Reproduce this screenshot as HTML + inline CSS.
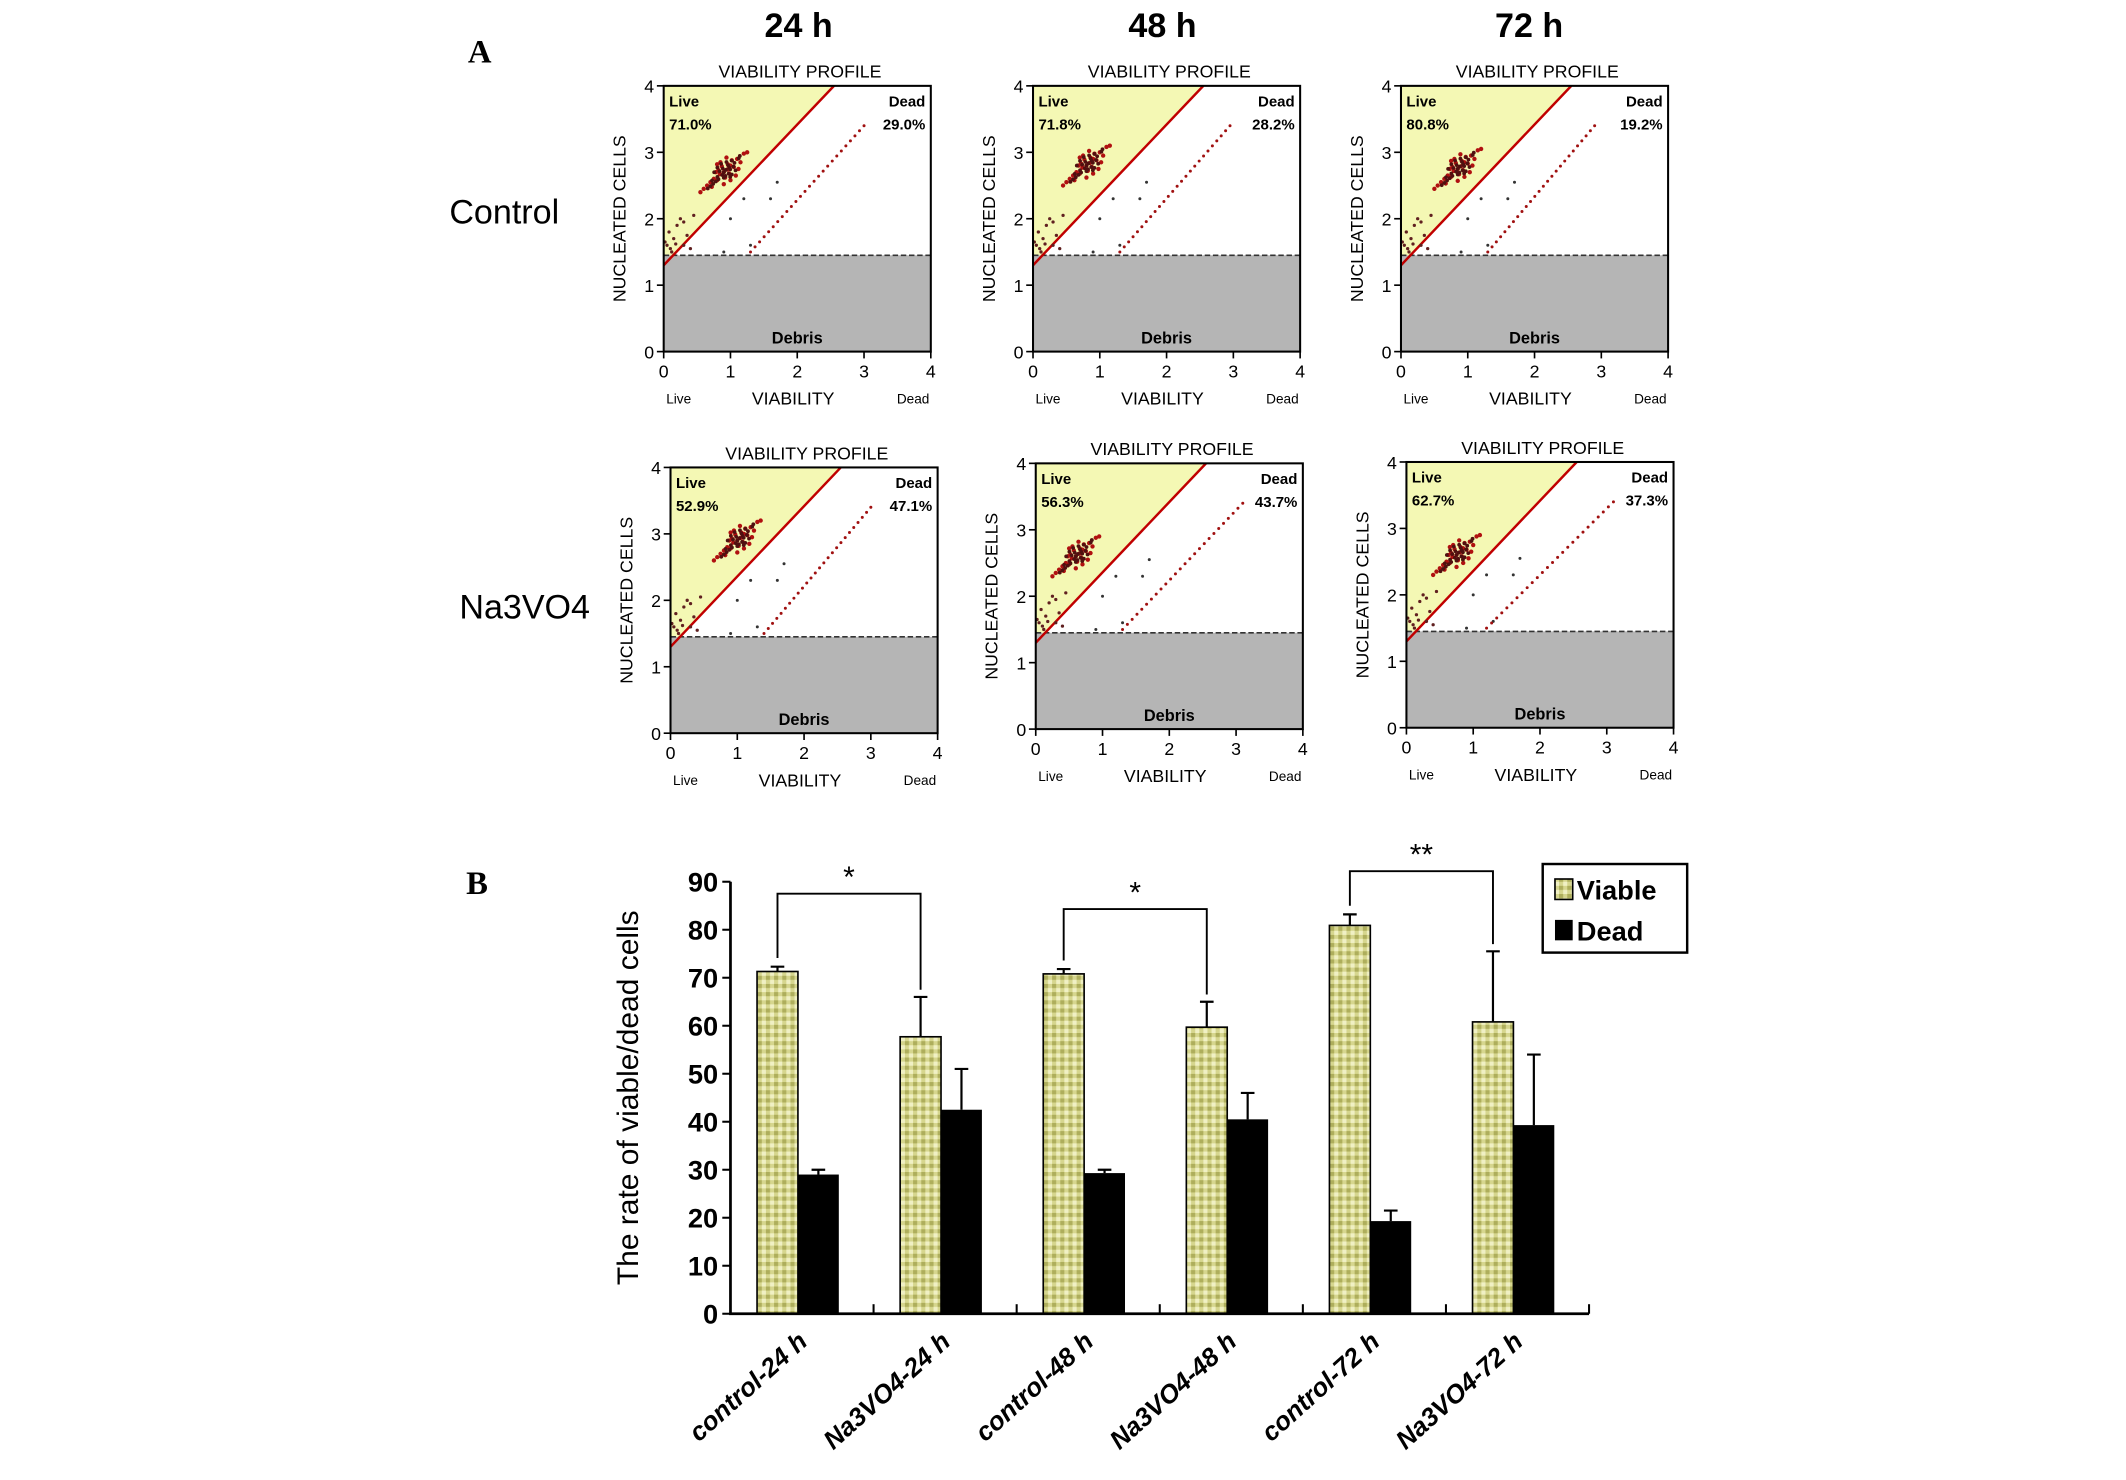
<!DOCTYPE html>
<html><head><meta charset="utf-8">
<style>
html,body{margin:0;padding:0;background:#fff;}
svg{display:block;font-family:"Liberation Sans",Arial,sans-serif;}
</style></head>
<body>
<svg id="fig" width="2126" height="1480" viewBox="0 0 1560 1086" preserveAspectRatio="none" xmlns="http://www.w3.org/2000/svg">
<defs>
<pattern id="chk" width="6" height="6" patternUnits="userSpaceOnUse">
<rect width="6" height="6" fill="#d6d68e"/>
<rect width="3" height="3" fill="#aeae5c"/>
<rect x="3" y="3" width="3" height="3" fill="#f0f0c4"/>
</pattern>
</defs>
<text x="352" y="46" font-family="Liberation Serif,serif" font-weight="bold" font-size="24" text-anchor="middle">A</text>
<text x="350" y="656" font-family="Liberation Serif,serif" font-weight="bold" font-size="24" text-anchor="middle">B</text>
<text x="586" y="27" font-weight="bold" font-size="25" text-anchor="middle">24 h</text>
<text x="853" y="27" font-weight="bold" font-size="25" text-anchor="middle">48 h</text>
<text x="1122" y="27" font-weight="bold" font-size="25" text-anchor="middle">72 h</text>
<text x="370" y="164" font-size="25" text-anchor="middle">Control</text>
<text x="385" y="454" font-size="25" text-anchor="middle">Na3VO4</text>
<g id="scatters" transform="translate(-1,-1)"></g>
<g id="bars" transform="translate(-2,-4)"></g>
</svg>
<script>
// ---- Scatter panel data ----
const panelBoxes = [[488,64],[759,64],[1029,64],[493,344],[761,341],[1033,340]];
const livePct = ["71.0%","71.8%","80.8%","52.9%","56.3%","62.7%"];
const deadPct = ["29.0%","28.2%","19.2%","47.1%","43.7%","37.3%"];
const clusterX = [0.9,0.8,0.85,1.0,0.6,0.75];
const clusterY = [2.7,2.8,2.75,2.9,2.6,2.6];
const deadStart = [1.3,1.3,1.3,1.4,1.3,1.2];
const deadEnd = [3.0,2.95,2.9,3.0,3.1,3.1];
const clusterOffsets = [[0,0],[0.05,0.04],[-0.06,-0.03],[0.1,0.1],[-0.1,-0.12],[0.15,0.08],[-0.15,-0.1],[0.02,-0.08],[-0.03,0.09],[0.2,0.2],[-0.2,-0.15],[0.08,-0.02],[-0.08,0.03],[0.25,0.15],[-0.25,-0.2],[0.12,0.18],[-0.12,0.0],[0.3,0.28],[-0.3,-0.25],[0.18,-0.05],[-0.05,0.15],[0.06,0.12],[-0.18,-0.22],[0.22,0.05],[0.0,-0.18],[-0.35,-0.3],[0.35,0.3],[0.1,-0.12],[-0.1,0.12],[0.04,0.22]];
const lowPts = [[0.05,1.6],[0.1,1.55],[0.15,1.7],[0.2,1.9],[0.08,1.8],[0.3,1.6],[0.25,2.0],[0.12,1.5],[0.35,1.75],[0.4,1.55],[0.02,1.65],[0.18,1.62],[0.45,2.05],[0.3,1.95]];
const deadFrac = [0,0.04,0.08,0.12,0.16,0.2,0.24,0.28,0.32,0.36,0.4,0.44,0.48,0.52,0.56,0.6,0.64,0.68,0.72,0.76,0.8,0.84,0.88,0.92,0.96,1];
const midPts = [[1.0,2.0],[1.2,2.3],[1.7,2.55],[1.6,2.3],[0.9,1.5],[1.3,1.6]];

const NS="http://www.w3.org/2000/svg";
function mk(tag,attrs,parent){const e=document.createElementNS(NS,tag);for(const k in attrs)e.setAttribute(k,attrs[k]);parent.appendChild(e);return e;}
const sg=document.getElementById('scatters');
const W=196,H=195;
panelBoxes.forEach((b,i)=>{
  const g=mk('g',{},sg);
  
  
  const px=v=>b[0]+v/4*W, py=v=>b[1]+H-v/4*H;
  const deb=mk('rect',{x:b[0],y:py(1.45),width:W,height:py(0)-py(1.45),fill:'#b5b5b5'},g);
  
  const lv=mk('polygon',{points:`${px(0)},${py(4)} ${px(2.55)},${py(4)} ${px(0.15)},${py(1.45)} ${px(0)},${py(1.45)}`,fill:'#f4f8b4'},g);
  
  const dl=mk('line',{x1:b[0],x2:b[0]+W,y1:py(1.45),y2:py(1.45),stroke:'#333','stroke-width':1.2,'stroke-dasharray':'4,2'},g);
  
  const rl=mk('line',{x1:px(0),y1:py(1.3),x2:px(2.55),y2:py(4),stroke:'#c00000','stroke-width':1.8},g);
  
  clusterOffsets.forEach(o=>{const c=mk('circle',{cx:px(clusterX[i]+o[0]),cy:py(clusterY[i]+o[1]),r:1.6,fill:'#b01010'},g);});
  clusterOffsets.forEach(o=>{const c=mk('circle',{cx:px(clusterX[i]+o[1]*0.8),cy:py(clusterY[i]+o[0]*0.7),r:1.4,fill:'#501010'},g);});
  lowPts.forEach(p=>{const c=mk('circle',{cx:px(p[0]),cy:py(p[1]),r:1.2,fill:'#602020'},g);});
  midPts.forEach(p=>{const c=mk('circle',{cx:px(p[0]),cy:py(p[1]),r:1.1,fill:'#333'},g);});
  deadFrac.forEach(f=>{const xv=deadStart[i]+(deadEnd[i]-deadStart[i])*f;const yv=1.5+(3.4-1.5)*f;const c=mk('circle',{cx:px(xv),cy:py(yv),r:1.1,fill:'#a01010'},g);});
  const fr=mk('rect',{x:b[0],y:b[1],width:W,height:H,fill:'none',stroke:'#000','stroke-width':1.5},g);
  
  for(let t=0;t<=4;t++){
    mk('line',{x1:px(t),x2:px(t),y1:py(0),y2:py(0)+5,stroke:'#000','stroke-width':1.2},g);
    mk('line',{x1:b[0]-5,x2:b[0],y1:py(t),y2:py(t),stroke:'#000','stroke-width':1.2},g);
    const xt=mk('text',{x:px(t),y:py(0)+19,'font-size':13,'text-anchor':'middle'},g);xt.textContent=t;
    
    const yt=mk('text',{x:b[0]-7,y:py(t)+5,'font-size':13,'text-anchor':'end'},g);yt.textContent=t;
    
  }
  const texts=[
    ['VIABILITY PROFILE',b[0]+W/2+2,b[1]-6,13,'middle','','panel-title'],
    ['Live',b[0]+4,b[1]+15,11,'start','bold','live-label'],
    [livePct[i],b[0]+4,b[1]+32,11,'start','bold','live-percent'],
    ['Dead',b[0]+W-4,b[1]+15,11,'end','bold','dead-label'],
    [deadPct[i],b[0]+W-4,b[1]+32,11,'end','bold','dead-percent'],
    ['Debris',b[0]+W/2,b[1]+H-6,12,'middle','bold','debris-label'],
    ['Live',b[0]+11,b[1]+H+38,10,'middle','','x-live-label'],
    ['VIABILITY',b[0]+W/2-3,b[1]+H+39,13,'middle','','x-axis-title'],
    ['Dead',b[0]+W-13,b[1]+H+38,10,'middle','','x-dead-label']];
  texts.forEach(t=>{const e=mk('text',{x:t[1],y:t[2],'font-size':t[3],'text-anchor':t[4],'font-weight':t[5]||'normal'},g);e.textContent=t[0];
    });
  const yl=mk('text',{x:0,y:0,'font-size':13,'text-anchor':'middle',transform:`translate(${b[0]-28},${b[1]+H/2}) rotate(-90)`},g);
  yl.textContent='NUCLEATED CELLS';
});

// ---- Bar chart data ----
const categories = ["control-24 h","Na3VO4-24 h","control-48 h","Na3VO4-48 h","control-72 h","Na3VO4-72 h"];
const viable = [71.3,57.7,70.8,59.7,80.9,60.8];
const viableErr = [1.0,8.3,1.0,5.3,2.3,14.7];
const dead = [29.0,42.5,29.3,40.5,19.3,39.3];
const deadErr = [1.0,8.5,0.7,5.5,2.2,14.7];
const yTicks = [0,10,20,30,40,50,60,70,80,90];
const sigLabels = ["*","*","**"];
const sigHeights = [87.5,84.3,92.2];

const bg=document.getElementById('bars');
const X0=538,X1=1168,Y0=968,Y90=651;
const yS=v=>Y0-(v/90)*(Y0-Y90);
const groupW=(X1-X0)/categories.length;
const bw=30;
const gx=i=>X0+groupW*(i+0.5);
categories.forEach((c,i)=>{
  const cx=gx(i)-3;
  const vb=mk('rect',{x:cx-bw,y:yS(viable[i]),width:bw,height:Y0-yS(viable[i]),fill:'url(#chk)',stroke:'#000','stroke-width':1.2},bg);
  
  const db=mk('rect',{x:cx,y:yS(dead[i]),width:bw,height:Y0-yS(dead[i]),fill:'#000'},bg);
  
  const e1=mk('path',{d:`M${cx-bw/2},${yS(viable[i])} V${yS(viable[i]+viableErr[i])} M${cx-bw/2-5},${yS(viable[i]+viableErr[i])} H${cx-bw/2+5}`,stroke:'#000','stroke-width':1.6,fill:'none'},bg);
  
  const e2=mk('path',{d:`M${cx+bw/2},${yS(dead[i])} V${yS(dead[i]+deadErr[i])} M${cx+bw/2-5},${yS(dead[i]+deadErr[i])} H${cx+bw/2+5}`,stroke:'#000','stroke-width':1.6,fill:'none'},bg);
  
  mk('line',{x1:X0+groupW*(i+1),x2:X0+groupW*(i+1),y1:Y0,y2:Y0-7,stroke:'#000','stroke-width':1.5},bg);
  const lab=mk('text',{x:0,y:0,'font-size':19,'font-weight':'bold','font-style':'italic','text-anchor':'end',transform:`translate(${cx+8},${Y0+22}) rotate(-42)`},bg);
  lab.textContent=c;
});
const ax=mk('path',{d:`M${X0},${Y90} V${Y0} H${X1}`,stroke:'#000','stroke-width':2,fill:'none'},bg);

yTicks.forEach(t=>{
  mk('line',{x1:X0-6,x2:X0,y1:yS(t),y2:yS(t),stroke:'#000','stroke-width':1.5},bg);
  const tt=mk('text',{x:X0-9,y:yS(t)+7,'font-size':20,'font-weight':'bold','text-anchor':'end'},bg);
  tt.textContent=t;
});
const yt=mk('text',{x:0,y:0,'font-size':22,'text-anchor':'middle',transform:`translate(470,${(Y0+Y90)/2}) rotate(-90)`},bg);
yt.textContent='The rate of viable/dead cells';
sigLabels.forEach((s,k)=>{
  const a=2*k,b2=2*k+1;
  const xa=gx(a)-3-bw/2,xb=gx(b2)-3-bw/2;
  const yTop=yS(sigHeights[k]);
  const p=mk('path',{d:`M${xa},${yS(viable[a]+viableErr[a]+1.8)} V${yTop} H${xb} V${yS(viable[b2]+viableErr[b2]+1.5)}`,stroke:'#000','stroke-width':1.4,fill:'none'},bg);
  
  const st=mk('text',{x:(xa+xb)/2,y:yTop-5,'font-size':22,'text-anchor':'middle'},bg);
  st.textContent=s;
});
const lg=mk('g',{},bg);
mk('rect',{x:1134,y:638,width:106,height:65,fill:'#fff',stroke:'#000','stroke-width':1.8},lg);
const s1=mk('rect',{x:1143,y:649,width:13,height:15,fill:'url(#chk)',stroke:'#000','stroke-width':1.2},lg);

const s2=mk('rect',{x:1143,y:679,width:13,height:15,fill:'#000'},lg);

const l1=mk('text',{x:1159,y:664,'font-size':20,'font-weight':'bold'},lg);l1.textContent='Viable';

const l2=mk('text',{x:1159,y:694,'font-size':20,'font-weight':'bold'},lg);l2.textContent='Dead';

</script>
</body></html>
